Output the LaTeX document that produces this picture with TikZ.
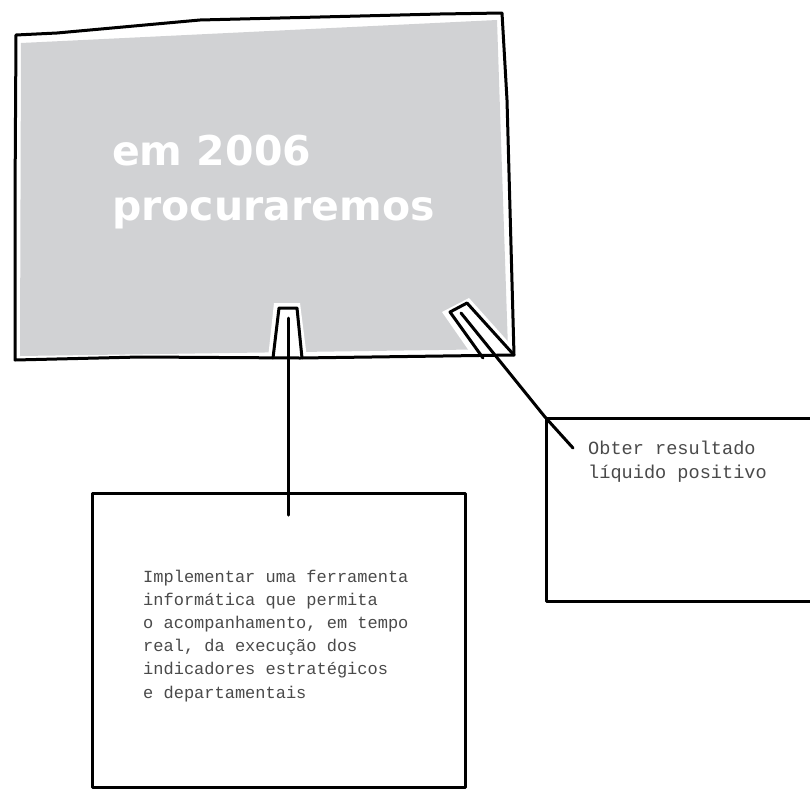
\documentclass[tikz,border=0pt]{standalone}
\usepackage{fontspec}
\newfontfamily\monofont{Liberation Mono}
\newfontfamily\titlefont{DejaVu Sans}
\definecolor{panelgray}{HTML}{D1D2D4}
\definecolor{textgray}{HTML}{4A4A4A}
\tikzset{
  ink/.style={line width=3pt, line join=round, line cap=round, black},
  halo/.style={fill=white, draw=none},
  notebox/.style={draw, ink, rectangle, inner sep=0pt},
  notetext/.style={font=\monofont\fontsize{17}{23.2}\selectfont, text=textgray, align=left, inner sep=0pt, anchor=base west},
}
\begin{document}
\begin{tikzpicture}[x=1pt,y=-1pt]
\useasboundingbox (0,0) rectangle (810,790);
\clip (0,0) rectangle (810,790);
\fill[white] (0,0) rectangle (810,790);

% main panel corners
\coordinate (pTL) at (16,35);
\coordinate (pTR) at (502,13);
\coordinate (pBR) at (514,355);
\coordinate (pBL) at (15,360);

% grey fill with white margin
\fill[panelgray] (21,43) -- (497,20) -- (508,349) -- (20,356) -- cycle;

% white halos around tabs
\fill[halo] (268,358) -- (274,303) -- (300,303) -- (307,358) -- cycle;
\fill[halo] (442,312) -- (469,298) -- (512,346) -- (510,358) -- (474,358) -- cycle;

% panel border
\draw[ink] (pTL) -- (57,33) -- (200,20) -- (440,14) -- (pTR) -- (507,100) -- (pBR) -- (300,358) -- (140,357) -- (pBL) -- (15,200) -- cycle;

% title text
\node[font=\titlefont\bfseries\fontsize{41}{55}\selectfont, text=white, align=left, inner sep=0pt, anchor=base west] (title) at (112,220) {em 2006\\procuraremos};

% middle tab
\coordinate (tabA1) at (273,358);
\coordinate (tabA2) at (279,308);
\coordinate (tabA3) at (297,308);
\coordinate (tabA4) at (302,358);
\draw[ink] (tabA1) -- (tabA2) -- (tabA3) -- (tabA4);
\coordinate (tabAin) at (288,318);

% right tab
\coordinate (tabB1) at (483,358);
\coordinate (tabB2) at (450,312);
\coordinate (tabB3) at (467,303);
\draw[ink] (tabB1) -- (tabB2) -- (tabB3) -- (pBR);
\coordinate (tabBin) at (461,313);

% lower box
\node[notebox, minimum width=373pt, minimum height=294pt] (boxA) at (278.5,640) {};
\node[notetext] (textA) at (143,698) {Implementar uma ferramenta\\informática que permita\\o acompanhamento, em tempo\\real, da execução dos\\indicadores estratégicos\\e departamentais};
\coordinate (endA) at (288,515);

% right box
\coordinate (rTL) at (545,417);
\node[notebox, minimum width=300pt, minimum height=183pt, anchor=north west] (boxB) at (rTL) {};
\node[notetext, font=\monofont\fontsize{18.6}{23.2}\selectfont] (textB) at (588,478) {Obter resultado\\líquido positivo};
\coordinate (endB) at (573,448);

% connectors
\draw[ink] (tabAin) -- (endA);
\draw[ink] (tabBin) -- (rTL) -- (endB);
\end{tikzpicture}
\end{document}
